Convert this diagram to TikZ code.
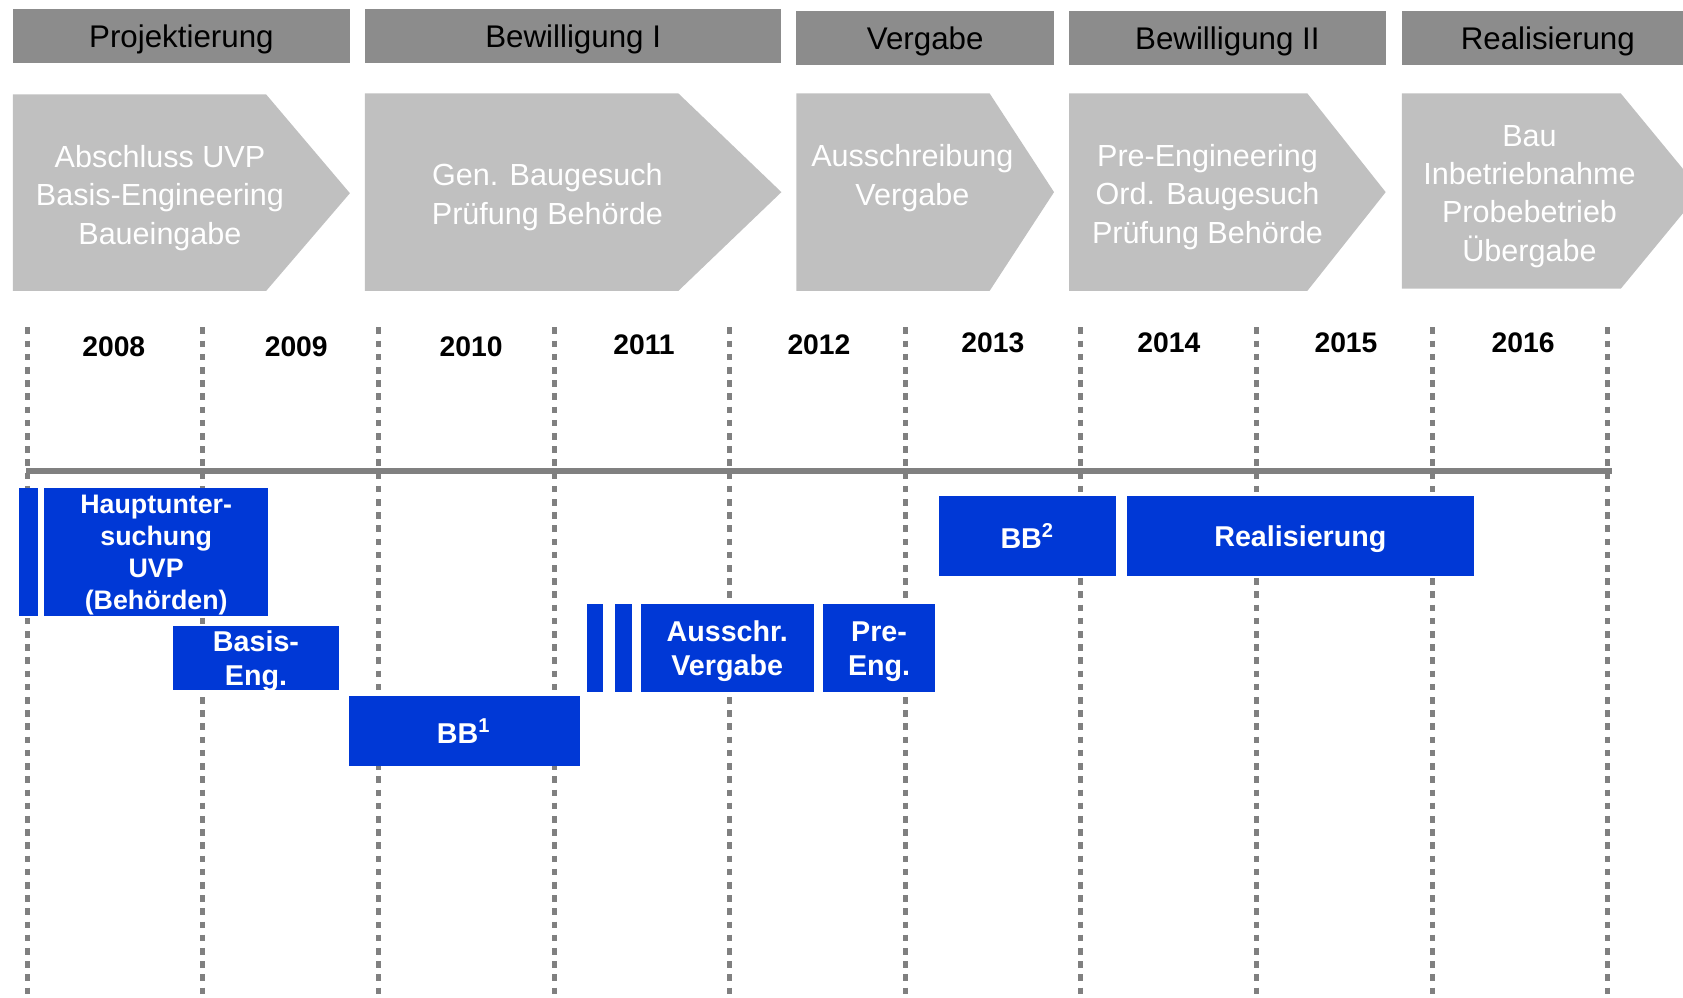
\documentclass[tikz,border=0pt]{standalone}
\usepackage{fontspec}
\setmainfont{Liberation Sans}
\usepackage{tikz}
\usepackage{xcolor}

\definecolor{phasegray}{RGB}{140,140,140}
\definecolor{chevgray}{RGB}{192,192,192}
\definecolor{barblue}{RGB}{0,56,214}
\definecolor{linegray}{RGB}{128,128,128}

\begin{document}
\begin{tikzpicture}[
  phase/.style={fill=phasegray, inner sep=0pt, minimum height=0.51cm, text depth=0pt, font=\fontsize{8.3}{10}\selectfont},
  chevtext/.style={text=white, align=center, text depth=0pt, font=\fontsize{8.1}{10.2}\selectfont},
  year/.style={font=\fontsize{7.5}{9}\selectfont\bfseries},
  bar/.style={fill=barblue, text=white, inner sep=0pt, align=center, text depth=0pt, font=\fontsize{7.6}{9.1}\selectfont\bfseries},
  yearline/.style={linegray, line width=1.3pt, dash pattern=on 1.75pt off 1.75pt}
]
\clip (0,0) rectangle (15.68,-9.29);

% Phase headers
\node[phase, minimum width=3.14cm] (ph1) at (1.69,-0.335) {Projektierung};
\node[phase, minimum width=3.88cm] (ph2) at (5.34,-0.335) {Bewilligung I};
\node[phase, minimum width=2.40cm] (ph3) at (8.62,-0.355) {Vergabe};
\node[phase, minimum width=2.95cm] (ph4) at (11.435,-0.355) {Bewilligung II};
\node[phase, minimum width=2.72cm] (ph5) at (14.42,-0.355) {Realisierung};

% Chevrons
\fill[chevgray] (0.12,-0.88) -- (2.48,-0.88) -- (3.26,-1.80) -- (2.48,-2.71) -- (0.12,-2.71) -- cycle;
\fill[chevgray] (3.40,-0.87) -- (6.32,-0.87) -- (7.28,-1.79) -- (6.32,-2.71) -- (3.40,-2.71) -- cycle;
\fill[chevgray] (7.42,-0.87) -- (9.22,-0.87) -- (9.82,-1.79) -- (9.22,-2.71) -- (7.42,-2.71) -- cycle;
\fill[chevgray] (9.96,-0.87) -- (12.18,-0.87) -- (12.91,-1.79) -- (12.18,-2.71) -- (9.96,-2.71) -- cycle;
\fill[chevgray] (13.06,-0.87) -- (15.10,-0.87) -- (15.85,-1.78) -- (15.10,-2.69) -- (13.06,-2.69) -- cycle;
\node[chevtext] (ch1) at (1.49,-1.815) {Abschluss UVP\\Basis-Engineering\\Baueingabe};
\node[chevtext] (ch2) at (5.10,-1.805) {Gen. Baugesuch\\Prüfung Behörde};
\node[chevtext] (ch3) at (8.50,-1.63) {Ausschreibung\\Vergabe};
\node[chevtext] (ch4) at (11.25,-1.805) {Pre-Engineering\\Ord. Baugesuch\\Prüfung Behörde};
\node[chevtext] (ch5) at (14.25,-1.80) {Bau\\Inbetriebnahme\\Probebetrieb\\Übergabe};

% Year lines
\draw[yearline] (0.26,-3.05) -- (0.26,-9.35);
\draw[yearline] (1.89,-3.05) -- (1.89,-9.35);
\draw[yearline] (3.53,-3.05) -- (3.53,-9.35);
\draw[yearline] (5.17,-3.05) -- (5.17,-9.35);
\draw[yearline] (6.80,-3.05) -- (6.80,-9.35);
\draw[yearline] (8.44,-3.05) -- (8.44,-9.35);
\draw[yearline] (10.07,-3.05) -- (10.07,-9.35);
\draw[yearline] (11.71,-3.05) -- (11.71,-9.35);
\draw[yearline] (13.35,-3.05) -- (13.35,-9.35);
\draw[yearline] (14.98,-3.05) -- (14.98,-9.35);

% Years
\node[year] (y2008) at (1.06,-3.23) {2008};
\node[year] (y2009) at (2.76,-3.23) {2009};
\node[year] (y2010) at (4.39,-3.23) {2010};
\node[year] (y2011) at (6.00,-3.21) {2011};
\node[year] (y2012) at (7.63,-3.21) {2012};
\node[year] (y2013) at (9.25,-3.19) {2013};
\node[year] (y2014) at (10.89,-3.19) {2014};
\node[year] (y2015) at (12.54,-3.19) {2015};
\node[year] (y2016) at (14.19,-3.19) {2016};

% Time axis
\draw[linegray, line width=1.7pt] (0.24,-4.39) -- (15.02,-4.39);

% Activities
\node[bar, minimum width=0.17cm, minimum height=1.19cm] (uvp0) at (0.265,-5.145) {};
\node[bar, minimum width=2.09cm, minimum height=1.19cm, font=\fontsize{7.1}{8.5}\selectfont\bfseries] (uvp) at (1.455,-5.145) {Hauptunter-\\suchung\\UVP\\(Behörden)};
\node[bar, minimum width=1.55cm, minimum height=0.60cm] (basis) at (2.385,-6.13) {Basis-\\Eng.};
\node[bar, minimum width=2.15cm, minimum height=0.66cm] (bb1) at (4.325,-6.81) {BB\textsuperscript{1}};
\node[bar, minimum width=0.15cm, minimum height=0.82cm] (aus0) at (5.545,-6.04) {};
\node[bar, minimum width=0.16cm, minimum height=0.82cm] (aus1) at (5.81,-6.04) {};
\node[bar, minimum width=1.61cm, minimum height=0.82cm] (aus) at (6.775,-6.04) {Ausschr.\\Vergabe};
\node[bar, minimum width=1.04cm, minimum height=0.82cm] (pre) at (8.19,-6.04) {Pre-\\Eng.};
\node[bar, minimum width=1.65cm, minimum height=0.75cm] (bb2) at (9.575,-4.995) {BB\textsuperscript{2}};
\node[bar, minimum width=3.23cm, minimum height=0.75cm] (real) at (12.115,-4.995) {Realisierung};
\end{tikzpicture}
\end{document}
